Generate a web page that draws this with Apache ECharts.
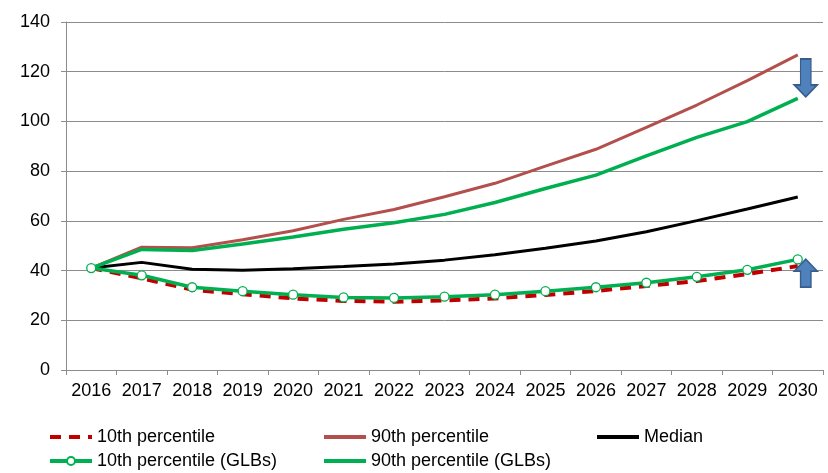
<!DOCTYPE html>
<html>
<head>
<meta charset="utf-8">
<script src="https://cdn.jsdelivr.net/npm/echarts@6/dist/echarts.min.js"></script>
<style>
  html, body { margin: 0; padding: 0; background: #ffffff; }
  #chart { width: 828px; height: 473px; }
</style>
</head>
<body>
<div id="chart"></div>
<script>
// Categories (years)
const years = ['2016','2017','2018','2019','2020','2021','2022','2023','2024','2025','2026','2027','2028','2029','2030'];

// Series values
const p10      = [41, 36.9, 32.3, 30.5, 28.8, 27.8, 27.5, 28.0, 28.8, 30.2, 31.8, 33.8, 35.8, 38.6, 41.8];
const p90      = [41, 49.4, 49.2, 52.4, 56.0, 60.6, 64.6, 69.7, 75.1, 82.0, 88.8, 97.6, 106.6, 116.4, 126.8];
const median   = [41, 43.3, 40.5, 40.1, 40.7, 41.6, 42.6, 44.2, 46.4, 49.0, 51.9, 55.6, 60.1, 64.8, 69.6];
const p10GLB   = [41, 38.1, 33.3, 31.7, 30.3, 29.2, 29.0, 29.5, 30.3, 31.7, 33.3, 35.1, 37.5, 40.3, 44.5];
const p90GLB   = [41, 48.5, 48.1, 50.7, 53.5, 56.6, 59.2, 62.6, 67.4, 73.0, 78.4, 86.1, 93.6, 99.9, 109.3];

// Y axis ticks
const yTicks = [0, 20, 40, 60, 80, 100, 120, 140];

// Arrow annotations: [category, value]
const downArrowAt = ['2030', 117.5];
const upArrowAt   = ['2030', 39];

const FONT = '"Liberation Sans", Arial, sans-serif';
const GRID_GRAY = '#8c8c8c';

const chart = echarts.init(document.getElementById('chart'), null, { renderer: 'canvas' });

function legendAt(name, left, top) {
  return {
    data: [name],
    left: left,
    top: top,
    itemWidth: 42,
    itemHeight: 10,
    itemGap: 0,
    padding: 0,
    selectedMode: false,
    lineStyle: { width: 4 },
    textStyle: { fontFamily: FONT, fontSize: 18, color: '#000', padding: [0, 0, 0, 0] }
  };
}

// plain lines carry no marker, in the plot or in the legend
const noMarker = { opacity: 0 };

const option = {
  animation: false,
  backgroundColor: '#ffffff',
  textStyle: { fontFamily: FONT },
  grid: { left: 66, right: 5, top: 22, bottom: 103, containLabel: false },
  legend: [
    legendAt('10th percentile', 48, 428),
    legendAt('90th percentile', 322, 428),
    legendAt('Median', 595, 428),
    legendAt('10th percentile (GLBs)', 48, 452),
    legendAt('90th percentile (GLBs)', 322, 452)
  ],
  xAxis: {
    type: 'category',
    data: years,
    boundaryGap: true,
    axisLine: { lineStyle: { color: GRID_GRAY, width: 1 } },
    axisTick: { show: true, length: 5, alignWithLabel: false, lineStyle: { color: GRID_GRAY } },
    axisLabel: { fontFamily: FONT, fontSize: 18, color: '#000', margin: 12, interval: 0 }
  },
  yAxis: {
    type: 'value',
    min: yTicks[0],
    max: yTicks[yTicks.length - 1],
    interval: yTicks[1] - yTicks[0],
    axisLine: { show: true, lineStyle: { color: GRID_GRAY, width: 1 } },
    axisTick: { show: true, length: 5, lineStyle: { color: GRID_GRAY } },
    axisLabel: { fontFamily: FONT, fontSize: 18, color: '#000', margin: 16 },
    splitLine: { show: true, lineStyle: { color: GRID_GRAY, width: 1 } }
  },
  series: [
    {
      name: '10th percentile',
      type: 'line',
      data: p10,
      symbol: 'none',
      color: '#c00000',
      itemStyle: noMarker,
      lineStyle: { color: '#c00000', width: 4, type: [11, 8] },
      z: 2
    },
    {
      name: '90th percentile',
      type: 'line',
      data: p90,
      symbol: 'none',
      color: '#b3504d',
      itemStyle: noMarker,
      lineStyle: { color: '#b3504d', width: 3 },
      z: 2
    },
    {
      name: 'Median',
      type: 'line',
      data: median,
      symbol: 'none',
      color: '#000000',
      itemStyle: noMarker,
      lineStyle: { color: '#000000', width: 3 },
      z: 2
    },
    {
      name: '10th percentile (GLBs)',
      type: 'line',
      data: p10GLB,
      symbol: 'circle',
      symbolSize: 9,
      showSymbol: true,
      color: '#00b050',
      itemStyle: { color: '#ffffff', borderColor: '#00b050', borderWidth: 1.3 },
      lineStyle: { color: '#00b050', width: 3.5 },
      z: 3
    },
    {
      name: '90th percentile (GLBs)',
      type: 'line',
      data: p90GLB,
      symbol: 'none',
      color: '#00b050',
      itemStyle: noMarker,
      lineStyle: { color: '#00b050', width: 3.5 },
      z: 3,
      markPoint: {
        silent: true,
        label: { show: false },
        itemStyle: { color: '#4f81bd', borderColor: '#385d8a', borderWidth: 1.5, opacity: 1 },
        data: [
          {
            coord: downArrowAt,
            symbol: 'path://M6,0 H16 V26 H22 L11,38 L0,26 H6 Z',
            symbolSize: [23, 38],
            symbolOffset: [8, 0],
            symbolKeepAspect: false
          },
          {
            coord: upArrowAt,
            symbol: 'path://M11,0 L22,12 H16 V28 H6 V12 H0 Z',
            symbolSize: [23, 28],
            symbolOffset: [8, 0],
            symbolKeepAspect: false
          }
        ]
      }
    }
  ]
};

chart.setOption(option);
</script>
</body>
</html>
